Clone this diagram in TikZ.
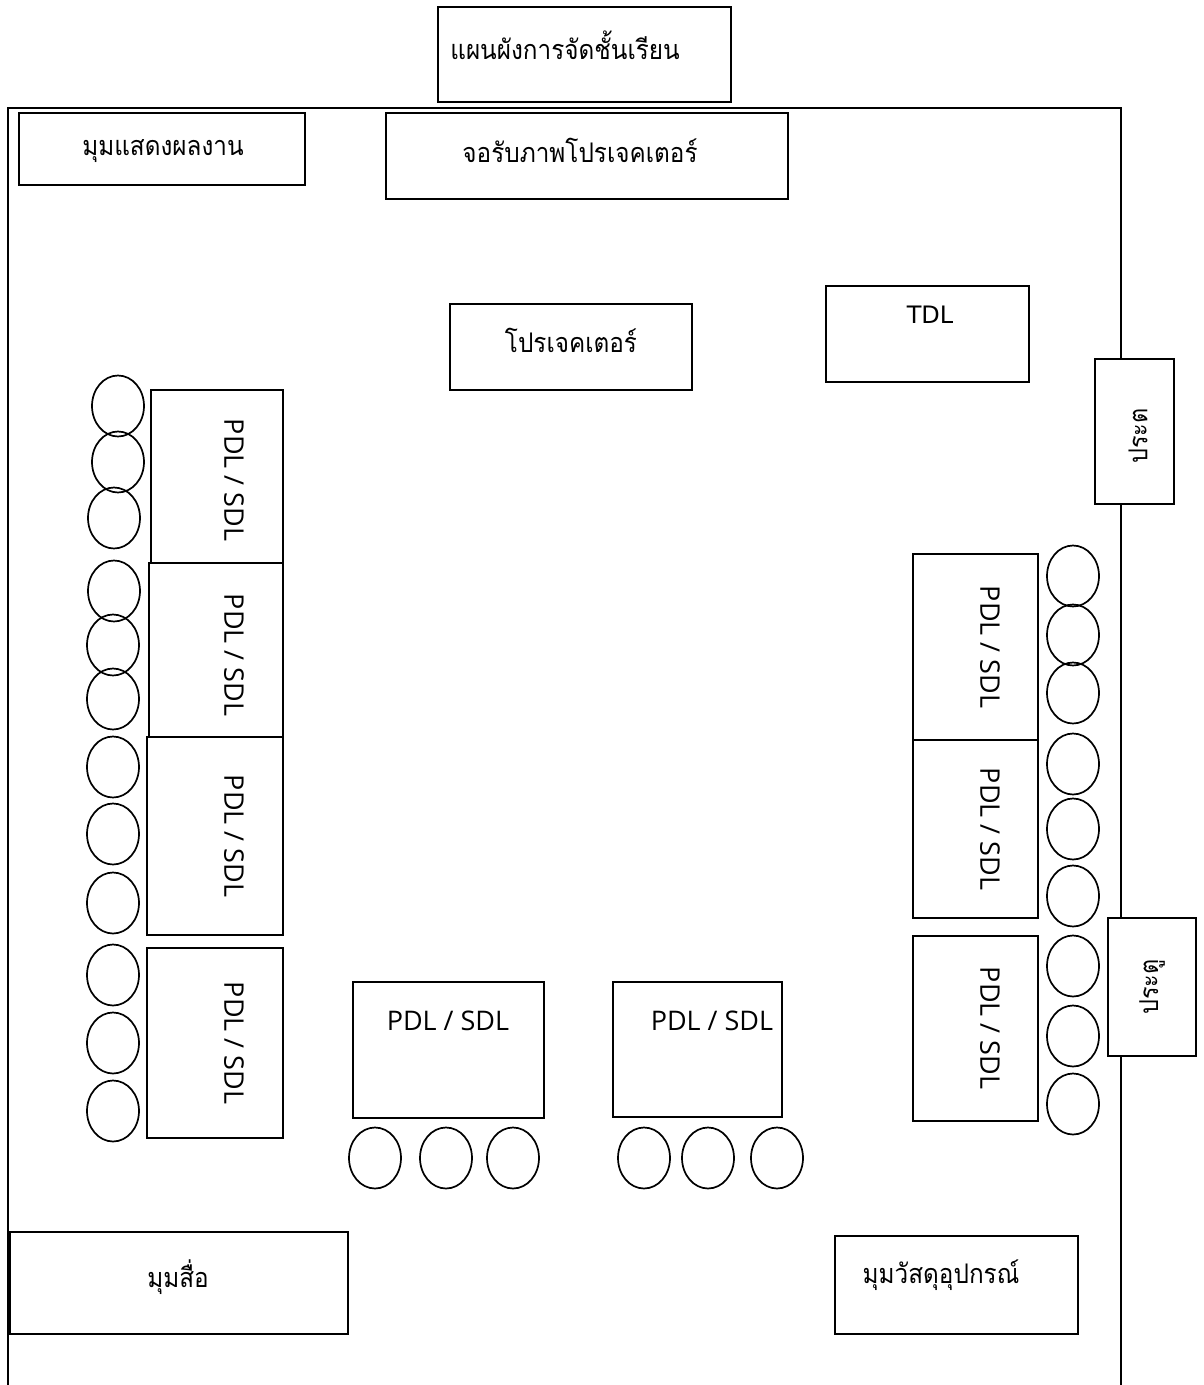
\documentclass[tikz,border=0pt]{standalone}
\usepackage{fontspec}
\usetikzlibrary{shapes.geometric}
\newfontfamily\thai[Script=Thai,FakeStretch=0.9]{Loma}
\newfontfamily\latinA{Open Sans}
\newfontfamily\latinB{DejaVu Sans}
\tikzset{
  box/.style={draw, line width=1.9pt, fill=white, inner sep=0pt},
  seat/.style={draw, ellipse, line width=1.7pt, minimum width=52pt, minimum height=61pt, inner sep=0pt},
  thtext/.style={font=\thai\fontsize{27}{30}\selectfont, inner sep=0pt},
  pdl/.style={font=\latinA\fontsize{27}{30}\selectfont, inner sep=0pt},
  pdlrot/.style={pdl, rotate=-90},
  doortext/.style={font=\thai\fontsize{26}{30}\selectfont, inner sep=0pt, rotate=90},
}
\begin{document}
\begin{tikzpicture}[x=1pt,y=-1pt]
\useasboundingbox (0,0) rectangle (1203,1385);
\fill[white] (0,0) rectangle (1203,1385);
% room walls
\draw[line width=1.9pt] (8,1385) -- (8,108) -- (1121,108) -- (1121,1385);
% title
\node[box, minimum width=293pt, minimum height=95pt] (title) at (584.5,54.5) {};
\node[thtext] (titleT) at (565,45) {แผนผังการจัดชั้นเรียน};
% top boxes
\node[box, minimum width=286pt, minimum height=72pt] (show) at (162,149) {};
\node[thtext] (showT) at (163,151) {มุมแสดงผลงาน};
\node[box, minimum width=402pt, minimum height=86pt] (screen) at (587,156) {};
\node[thtext] (screenT) at (580,150) {จอรับภาพโปรเจคเตอร์};
\node[box, minimum width=242pt, minimum height=86pt] (proj) at (571,347) {};
\node[thtext] (projT) at (571,340) {โปรเจคเตอร์};
\node[box, minimum width=203pt, minimum height=96pt] (tdl) at (927.5,334) {};
\node[font=\latinB\fontsize{24}{28}\selectfont, inner sep=0pt] (tdlT) at (930,315) {TDL};
% doors
\node[box, minimum width=79pt, minimum height=145pt] (door1) at (1134.5,431.5) {};
\node[doortext] (door1T) at (1138,436) {ประต};
\node[box, minimum width=88pt, minimum height=138pt] (door2) at (1152,987) {};
\node[doortext] (door2T) at (1152,987) {ประตู};
% left desks
\node[box, minimum width=132pt, minimum height=173pt] (L1) at (217,476.5) {};
\node[box, minimum width=134pt, minimum height=174pt] (L2) at (216,650) {};
\node[box, minimum width=136pt, minimum height=198pt] (L3) at (215,836) {};
\node[box, minimum width=136pt, minimum height=190pt] (L4) at (215,1043) {};
\node[pdlrot] (L1T) at (234,480) {PDL / SDL};
\node[pdlrot] (L2T) at (234,655) {PDL / SDL};
\node[pdlrot] (L3T) at (234,836) {PDL / SDL};
\node[pdlrot] (L4T) at (234,1043) {PDL / SDL};
% right desks
\node[box, minimum width=125pt, minimum height=186pt] (R1) at (975.5,647) {};
\node[box, minimum width=125pt, minimum height=178pt] (R2) at (975.5,829) {};
\node[box, minimum width=125pt, minimum height=185pt] (R3) at (975.5,1028.5) {};
\node[pdlrot] (R1T) at (990,647) {PDL / SDL};
\node[pdlrot] (R2T) at (990,829) {PDL / SDL};
\node[pdlrot] (R3T) at (990,1028) {PDL / SDL};
% bottom desks
\node[box, minimum width=191pt, minimum height=136pt] (B1) at (448.5,1050) {};
\node[box, minimum width=169pt, minimum height=135pt] (B2) at (697.5,1049.5) {};
\node[pdl] (B1T) at (448,1021) {PDL / SDL};
\node[pdl] (B2T) at (712,1021) {PDL / SDL};
% corners
\node[box, minimum width=338pt, minimum height=102pt] (media) at (179,1283) {};
\node[thtext] (mediaT) at (178,1277) {มุมสื่อ};
\node[box, minimum width=243pt, minimum height=98pt] (mat) at (956.5,1285) {};
\node[thtext] (matT) at (941,1275) {มุมวัสดุอุปกรณ์};
% seats left
\foreach \x/\y [count=\i] in {118/406,118/462,114/518,114/591,113/645,113/699,113/767,113/834,113/903,113/975,113/1043,113/1111}
  \node[seat] (sl\i) at (\x,\y) {};
% seats right
\foreach \y [count=\i] in {576,635,693,764,829,896,966,1036,1104}
  \node[seat] (sr\i) at (1073,\y) {};
% seats bottom
\foreach \x [count=\i] in {375,446,513,644,708,777}
  \node[seat] (sb\i) at (\x,1158) {};
\end{tikzpicture}
\end{document}
